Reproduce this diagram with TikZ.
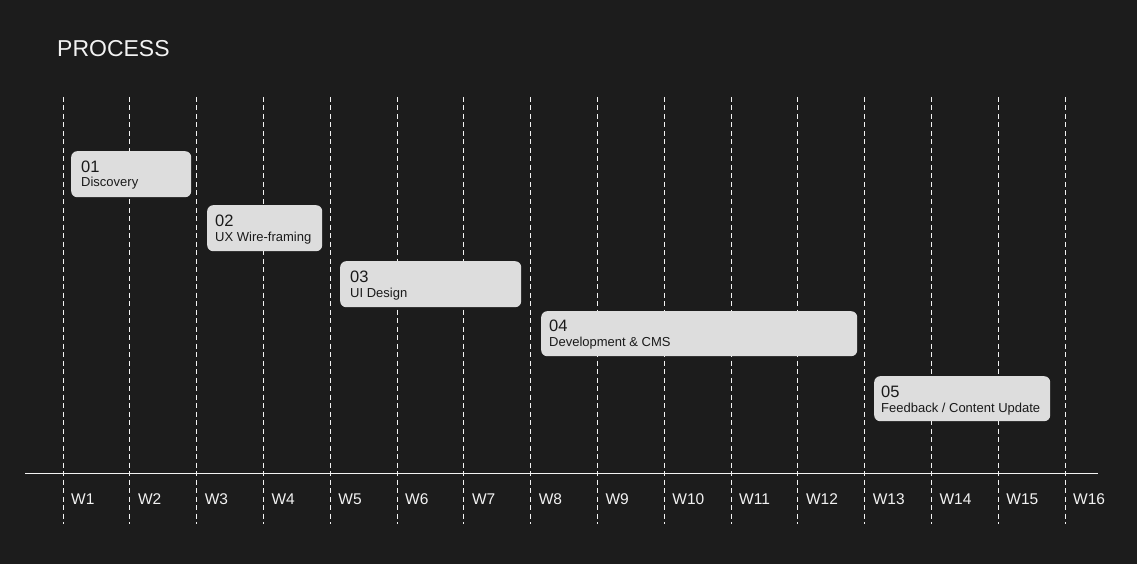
\documentclass[tikz,border=0pt]{standalone}
\usepackage{fontspec}
\setmainfont{Liberation Sans}
\usetikzlibrary{positioning}

\definecolor{bgdark}{HTML}{1C1C1C}
\definecolor{boxgray}{HTML}{DDDDDD}
\definecolor{inkdark}{HTML}{1A1A1A}
\definecolor{chalk}{HTML}{F2F2F2}

\tikzset{
  weekline/.style={chalk, line width=1pt, dash pattern=on 5pt off 3.5pt},
  weeklabel/.style={chalk, anchor=base west, inner sep=0pt, font=\fontsize{15.5}{18}\selectfont},
  phasebox/.style={fill=boxgray, rounded corners=6pt, anchor=north west, inner sep=0pt},
  phasenum/.style={inkdark, anchor=base west, inner sep=0pt, font=\fontsize{16.5}{18}\selectfont},
  phasename/.style={inkdark, anchor=base west, inner sep=0pt, font=\fontsize{13}{15}\selectfont},
}

\begin{document}
\begin{tikzpicture}[x=1pt,y=-1pt]
\useasboundingbox[fill=bgdark] (0,0) rectangle (1137,564);
\node (title) at (57,57) [chalk,anchor=base west,inner sep=0pt,font=\fontsize{23}{26}\selectfont] {PROCESS};
% week grid
\foreach \i in {1,...,16} {
  \coordinate (top\i) at ({63+66.8*(\i-1)},97);
  \coordinate (bot\i) at ({63+66.8*(\i-1)},524);
  \draw[weekline] (top\i) -- (bot\i);
  \node (w\i) at ({71+66.8*(\i-1)},504) [weeklabel] {W\i};
}
\coordinate (axisL) at (25,473);
\coordinate (axisR) at (1098,473);
\draw[chalk, line width=0.9pt] (axisL) -- (axisR);
% phases
\node (p1) at (71,151) [phasebox,minimum width=120pt,minimum height=46pt] {};
\node (p1num) at ([shift={(10,21.5)}]p1.north west) [phasenum] {01};
\node (p1name) at ([shift={(10,36)}]p1.north west) [phasename] {Discovery};
\node (p2) at (207,205) [phasebox,minimum width=115pt,minimum height=46pt] {};
\node (p2num) at ([shift={(8,21.5)}]p2.north west) [phasenum] {02};
\node (p2name) at ([shift={(8,36)}]p2.north west) [phasename] {UX Wire-framing};
\node (p3) at (340,261) [phasebox,minimum width=181pt,minimum height=46pt] {};
\node (p3num) at ([shift={(10,21.5)}]p3.north west) [phasenum] {03};
\node (p3name) at ([shift={(10,36)}]p3.north west) [phasename] {UI Design};
\node (p4) at (541,311) [phasebox,minimum width=316pt,minimum height=45pt] {};
\node (p4num) at ([shift={(8,20)}]p4.north west) [phasenum] {04};
\node (p4name) at ([shift={(8,35)}]p4.north west) [phasename] {Development \& CMS};
\node (p5) at (874,376) [phasebox,minimum width=176pt,minimum height=45pt] {};
\node (p5num) at ([shift={(7,21)}]p5.north west) [phasenum] {05};
\node (p5name) at ([shift={(7,36.5)}]p5.north west) [phasename] {Feedback / Content Update};
\end{tikzpicture}
\end{document}
